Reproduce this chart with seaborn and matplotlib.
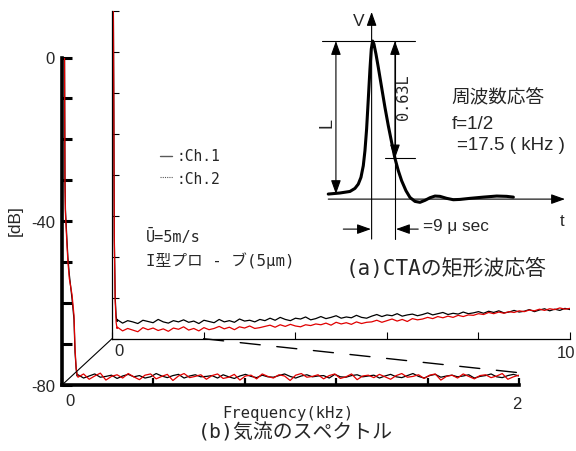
import numpy as np
import pandas as pd
import matplotlib
matplotlib.use("Agg")
import matplotlib.pyplot as plt
import seaborn as sns
from matplotlib.lines import Line2D
from matplotlib.patches import ConnectionPatch

sns.set_theme(style="white")
plt.rcParams['font.family'] = ['Liberation Sans', 'Noto Sans CJK JP']

# ---------------- data ----------------
# (b) spectrum, front panel (0-2 kHz)
drop_front_khz = [0.011, 0.012, 0.013, 0.015, 0.0175, 0.022, 0.026, 0.032, 0.038,
                  0.044, 0.0525, 0.057, 0.062, 0.066]
drop_front_ch1 = [0, -15, -30, -37, -40, -45, -49, -53, -56, -59, -64, -72, -76, -77.8]
drop_front_ch2 = [0, -16, -31, -38, -41, -46, -50, -54, -56, -58, -63, -71, -76, -77.4]
noise_front_ch1 = [-77.5, -78.3, -77.8, -77.3, -78.1, -77.9, -77.6, -78.4, -77.8, -77.4,
                   -78.0, -77.7, -78.3, -78.0, -77.2, -77.8, -78.2, -77.7, -77.4, -78.3,
                   -77.8, -77.5, -78.0, -77.9, -77.7, -78.3, -77.5, -78.0, -78.4, -77.8,
                   -77.4, -77.9, -78.2, -77.6, -78.0, -78.1, -77.7, -77.3, -77.9, -78.3,
                   -77.8, -77.5, -78.0, -77.8, -77.7, -78.3, -77.4, -78.0, -78.1, -77.7,
                   -77.5, -78.0, -77.8, -77.6, -78.3, -77.8, -77.4, -78.0, -78.2, -77.7,
                   -77.2, -77.9, -78.3, -77.7, -77.4, -78.1, -77.8, -77.6, -78.0, -77.8,
                   -77.5, -78.3, -77.9, -77.7, -77.3, -78.0, -78.2, -77.7, -77.4, -77.8]
noise_front_ch2 = [-78.1, -77.3, -78.6, -77.8, -77.1, -78.8, -77.9, -77.5, -78.3, -77.2,
                   -78.0, -78.7, -77.6, -77.3, -78.5, -77.9, -77.4, -78.9, -77.8, -77.2,
                   -78.2, -77.9, -77.5, -78.6, -77.7, -77.3, -78.4, -78.1, -77.4, -78.8,
                   -77.8, -77.6, -78.5, -77.3, -77.9, -78.3, -77.5, -77.8, -78.9, -77.6,
                   -77.2, -78.1, -77.9, -77.5, -78.5, -77.7, -77.3, -78.4, -78.0, -77.3,
                   -78.7, -77.8, -77.6, -78.2, -77.4, -78.0, -78.6, -77.7, -77.2, -78.1,
                   -77.9, -77.5, -78.4, -77.6, -77.3, -78.8, -77.9, -77.6, -78.3, -77.3,
                   -77.9, -78.5, -77.7, -77.5, -78.2, -77.8, -77.2, -78.6, -78.0, -77.6]

# (b) spectrum, back panel (0-10 kHz)
drop_back_khz = [0.030, 0.040, 0.050, 0.070, 0.090, 0.110]
drop_back_ch1 = [0, -25, -55, -70, -74.5, -75.8]
drop_back_ch2 = [0, -25, -56, -71, -76.0, -77.5]
noise_back_ch1 = [-75.4, -76.2, -75.6, -75.9, -76.3, -75.5, -75.8, -76.1, -75.3, -75.9,
                  -76.2, -75.6, -75.9, -75.4, -76.0, -75.7, -76.3, -75.5, -75.8, -76.1,
                  -75.3, -75.9, -75.6, -76.0, -75.2, -75.7, -75.5, -75.9, -75.3, -75.6,
                  -75.0, -75.5, -74.8, -75.3, -75.6, -75.0, -75.2, -74.7, -75.4, -75.1,
                  -74.6, -75.1, -74.8, -74.4, -75.0, -74.7, -74.9, -74.3, -74.8, -75.0,
                  -74.5, -74.1, -74.6, -74.2, -74.4, -73.9, -74.5, -74.2, -74.0, -74.4,
                  -74.1, -73.7, -74.2, -73.9, -73.6, -74.1, -73.8, -74.0, -73.5, -73.9,
                  -73.7, -73.4, -73.8, -73.3, -73.6, -73.2, -73.7, -73.5, -73.1, -73.5,
                  -73.3, -72.9, -73.4, -73.0, -72.7, -73.2, -72.8, -73.1, -72.6, -72.9]
noise_back_ch2 = [-77.2, -78.1, -77.5, -77.9, -78.3, -77.3, -77.8, -77.4, -78.0, -77.6,
                  -78.2, -77.4, -77.7, -77.1, -77.9, -77.5, -78.1, -77.3, -77.8, -77.5,
                  -77.0, -77.6, -77.2, -77.8, -77.1, -77.4, -76.9, -77.5, -77.3, -77.0,
                  -76.7, -77.2, -76.6, -77.0, -76.5, -76.9, -77.1, -76.6, -76.8, -76.4,
                  -76.6, -76.2, -76.7, -76.0, -76.4, -76.1, -76.5, -75.9, -76.3, -76.0,
                  -75.9, -75.5, -76.0, -75.6, -75.2, -75.7, -75.3, -75.8, -75.1, -75.4,
                  -75.2, -74.8, -75.1, -74.6, -74.9, -74.5, -74.8, -74.3, -74.6, -74.2,
                  -74.3, -73.9, -74.1, -73.6, -73.9, -73.5, -73.8, -73.4, -73.6, -73.2,
                  -73.4, -73.0, -73.2, -72.8, -73.1, -72.7, -72.9, -72.5, -72.8, -72.6]

# (a) CTA square-wave response (t in microseconds, V normalised to L)
pulse_t = [-17.09, -12.52, -8.61, -6.65, -5.35, -4.30, -3.39, -2.74, -2.09, -1.43,
           -0.78, -0.26, 0.26, 0.78, 1.57, 2.48, 3.78, 5.09, 6.39, 7.70,
           9.00, 10.30, 11.61, 13.30, 14.87, 16.83, 18.78, 20.74, 22.69, 24.65,
           26.61, 29.22, 31.82, 34.43, 38.35, 43.56, 48.78, 52.69, 55.30]
pulse_v = [0.000, 0.007, 0.017, 0.037, 0.065, 0.109, 0.185, 0.283, 0.425, 0.621,
           0.817, 0.948, 1.000, 0.980, 0.915, 0.828, 0.697, 0.566, 0.447, 0.338,
           0.233, 0.153, 0.087, 0.022, -0.022, -0.048, -0.054, -0.041, -0.024, -0.013,
           -0.015, -0.028, -0.037, -0.035, -0.028, -0.020, -0.013, -0.015, -0.020]
t_resp = 9.0       # microseconds
v_resp = 0.233     # level where response time is read

channels = ["Ch.1", "Ch.2"]
colors = {"Ch.1": "black", "Ch.2": "#e00000"}

# ---------------- frames ----------------
def make_frame(drop_x, drop1, drop2, noise1, noise2, x0, x1):
    grid = list(np.linspace(x0, x1, len(noise1)))
    rows = []
    for ch, d, n in (("Ch.1", drop1, noise1), ("Ch.2", drop2, noise2)):
        xs = list(drop_x) + grid
        ys = list(d) + list(n)
        rows.append(pd.DataFrame({"khz": xs, "db": ys, "ch": ch}))
    return pd.concat(rows, ignore_index=True)

df_front = make_frame(drop_front_khz, drop_front_ch1, drop_front_ch2,
                      noise_front_ch1, noise_front_ch2, 0.07, 2.0)
df_back = make_frame(drop_back_khz, drop_back_ch1, drop_back_ch2,
                     noise_back_ch1, noise_back_ch2, 0.12, 10.0)
df_pulse = pd.DataFrame({"t": pulse_t, "v": pulse_v})

# ---------------- figure ----------------
W, H = 576, 452
def fx(x): return x / W
def fy(y): return 1 - y / H

fig = plt.figure(figsize=(5.76, 4.52), dpi=100)
fig.patch.set_facecolor("white")

ax_f = fig.add_axes([fx(62), fy(386), 457 / W, (386 - 58.5) / H])
ax_b = fig.add_axes([fx(112), fy(339.7), 458 / W, (339.7 - 11.7) / H])
ax_a = fig.add_axes([fx(318), fy(250), (576 - 318) / W, (250 - 5) / H])
for a in (ax_f, ax_b, ax_a):
    a.set_facecolor("none")

# back panel
sns.lineplot(data=df_back, x="khz", y="db", hue="ch", hue_order=channels,
             palette=colors, estimator=None, sort=False, legend=False,
             linewidth=0.9, ax=ax_b)
ax_b.set_xlim(0, 10)
ax_b.set_ylim(-80, 0)
ax_b.set_xticks([0, 2, 4, 6, 8, 10])
ax_b.set_xticklabels([])
ax_b.set_yticks(list(range(-80, 1, 10)))
ax_b.set_yticklabels([])
ax_b.tick_params(left=True, bottom=True, direction="in", length=5, width=0.8,
                 color="black")
ax_b.set_xlabel("")
ax_b.set_ylabel("")
for s in ("top", "right"):
    ax_b.spines[s].set_visible(False)
for s in ("left", "bottom"):
    ax_b.spines[s].set_color("black")
    ax_b.spines[s].set_linewidth(0.9)

# front panel
sns.lineplot(data=df_front, x="khz", y="db", hue="ch", hue_order=channels,
             palette=colors, estimator=None, sort=False, legend=False,
             linewidth=0.9, ax=ax_f)
ax_f.set_xlim(0, 2)
ax_f.set_ylim(-80, 0)
ax_f.set_xticks([0, 0.4, 0.8, 1.2, 1.6, 2.0])
ax_f.set_xticklabels([])
yt = list(range(-80, 1, 10))
ax_f.set_yticks(yt)
ax_f.set_yticklabels([str(v) if v in (0, -40, -80) else "" for v in yt])
ax_f.tick_params(axis="y", left=True, direction="in", length=7, width=2.2,
                 color="black", labelsize=12, pad=5)
ax_f.tick_params(axis="x", bottom=True, direction="in", length=5, width=1.6,
                 color="black")
ax_f.set_xlabel("")
ax_f.set_ylabel("")
for s in ("top", "right"):
    ax_f.spines[s].set_visible(False)
for s in ("left", "bottom"):
    ax_f.spines[s].set_color("black")
    ax_f.spines[s].set_linewidth(2.6)

# perspective lines
fig.add_artist(Line2D([fx(62), fx(112)], [fy(386), fy(339.7)],
                      transform=fig.transFigure, color="black", lw=0.8))
con = ConnectionPatch(xyA=(2, -80), coordsA=ax_b.transData,
                      xyB=(2, -77.0), coordsB=ax_f.transData,
                      color="black", lw=1.0, linestyle=(0, (14.5, 12)))
fig.add_artist(con)

# texts of (b)
mono = ["DejaVu Sans Mono", "Noto Sans CJK JP"]
fig.text(fx(70), fy(402), "0", ha="center", va="center", fontsize=12)
fig.text(fx(517), fy(405), "2", ha="center", va="center", fontsize=12)
fig.text(fx(119), fy(352), "0", ha="center", va="center", fontsize=12)
fig.text(fx(566), fy(353), "10", ha="center", va="center", fontsize=12)
fig.text(fx(15), fy(221), "[dB]", ha="center", va="center", rotation=90, fontsize=12.5)
fig.text(fx(288), fy(414), "Frequency(kHz)", ha="center", va="center",
         fontsize=11.2, family=mono)
fig.text(fx(295), fy(433), "(b)気流のスペクトル", ha="center", va="center",
         fontsize=14.3, family=mono)

fig.add_artist(Line2D([fx(160), fx(172)], [fy(157), fy(157)],
                      transform=fig.transFigure, color="0.35", lw=1.0))
fig.add_artist(Line2D([fx(160), fx(173)], [fy(178), fy(178)],
                      transform=fig.transFigure, color="0.35", lw=0.8,
                      linestyle=(0, (1, 1))))
fig.text(fx(177), fy(157), ":Ch.1", ha="left", va="center", fontsize=10.5, family=mono)
fig.text(fx(177), fy(180), ":Ch.2", ha="left", va="center", fontsize=10.5, family=mono)
fig.text(fx(146), fy(237), "Ū=5m/s", ha="left", va="center", fontsize=11, family=mono)
fig.text(fx(146), fy(261), "I型プロ - ブ(5μm)", ha="left", va="center",
         fontsize=11.3, family=mono)

# ---------------- (a) inset ----------------
ax_a.set_xlim(-21.1, 79.8)
ax_a.set_ylim(-0.359, 1.242)

arrow_kw = dict(color="black", lw=0.8, shrinkA=0, shrinkB=0)
ah = "head_length=0.7,head_width=0.25"
ax_a.annotate("", xy=(75.5, -0.033), xytext=(-17.09, -0.033),
              arrowprops=dict(arrowstyle="-|>," + ah, **arrow_kw))
ax_a.annotate("", xy=(-0.13, 1.19), xytext=(-0.13, -0.294),
              arrowprops=dict(arrowstyle="-|>," + ah, **arrow_kw))
ax_a.plot([-19.7, 16.83], [1.0, 1.0], color="black", lw=0.8)
ax_a.plot([5.09, 16.83], [v_resp, v_resp], color="black", lw=0.8)
ax_a.plot([t_resp, t_resp], [1.0, -0.294], color="black", lw=0.8)
ax_a.annotate("", xy=(-14.09, 1.0), xytext=(-14.09, 0.0),
              arrowprops=dict(arrowstyle="<|-|>," + ah, **arrow_kw))
ax_a.annotate("", xy=(t_resp, 1.0), xytext=(t_resp, v_resp),
              arrowprops=dict(arrowstyle="<|-|>," + ah, **arrow_kw))
ax_a.annotate("", xy=(-0.4, -0.229), xytext=(-11.2, -0.229),
              arrowprops=dict(arrowstyle="-|>," + ah, **arrow_kw))
ax_a.annotate("", xy=(9.4, -0.229), xytext=(18.1, -0.229),
              arrowprops=dict(arrowstyle="-|>," + ah, **arrow_kw))

sns.lineplot(data=df_pulse, x="t", y="v", sort=False, estimator=None,
             color="black", linewidth=2.2, ax=ax_a)
ax_a.axis("off")

ax_a.text(-5.35, 1.133, "V", ha="center", va="center", fontsize=12.5)
ax_a.text(74.5, -0.174, "t", ha="center", va="center", fontsize=12)
ax_a.text(-17.7, 0.468, "L", ha="center", va="center", rotation=90, fontsize=13)
ax_a.text(12.4, 0.64, "0.63L", ha="center", va="center", rotation=90,
          fontsize=11, family=mono)
ax_a.text(20.1, -0.207, "=9 μ sec", ha="left", va="center", fontsize=12.3)
ax_a.text(31.2, 0.632, "周波数応答", ha="left", va="center", fontsize=13.4,
          family=["Noto Sans CJK JP"])
ax_a.text(31.2, 0.458, "f=1/2", ha="left", va="center", fontsize=13.5)
ax_a.text(33.1, 0.327, "=17.5 ( kHz )", ha="left", va="center", fontsize=13.5)
fig.text(fx(446), fy(268), "(a)CTAの矩形波応答", ha="center", va="center",
         fontsize=15, family=mono)

fig.savefig("out.png", dpi=100)
